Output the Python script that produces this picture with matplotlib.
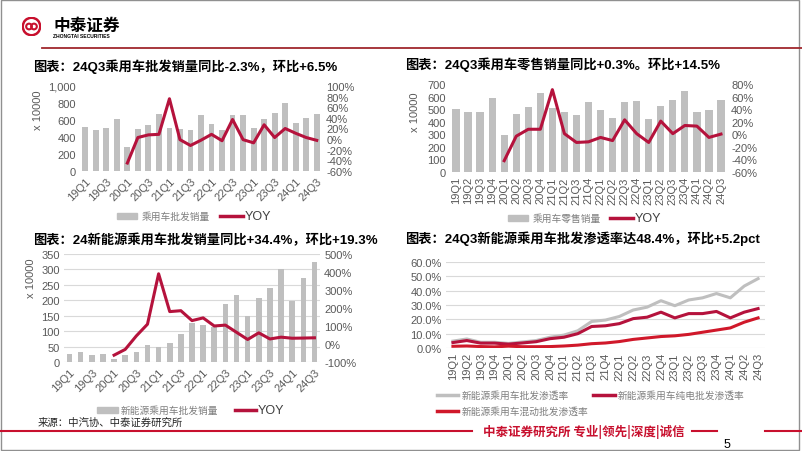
import matplotlib
matplotlib.use('Agg')
import matplotlib.pyplot as plt
import numpy as np
from matplotlib.patches import Rectangle, Circle
from matplotlib.lines import Line2D
from matplotlib.ticker import FuncFormatter

plt.rcParams['font.family'] = ['Liberation Sans', 'Noto Sans CJK SC', 'DejaVu Sans']

# ---- data ----
quarters = ['19Q1', '19Q2', '19Q3', '19Q4', '20Q1', '20Q2', '20Q3', '20Q4',
            '21Q1', '21Q2', '21Q3', '21Q4', '22Q1', '22Q2', '22Q3', '22Q4',
            '23Q1', '23Q2', '23Q3', '23Q4', '24Q1', '24Q2', '24Q3']

wholesale = [520, 480, 505, 615, 280, 495, 545, 675, 505, 490, 480, 660,
             550, 480, 660, 655, 505, 610, 685, 795, 565, 625, 670]
wholesale_yoy = [np.nan, np.nan, np.nan, np.nan, -45, 3, 8, 9, 76, -1, -12, -2,
                 9, -3, 37, -1, -7, 27, 3, 20, 11, 3, -2.3]

retail = [505, 480, 480, 590, 295, 465, 520, 630, 510, 480, 455, 560,
          490, 430, 555, 565, 425, 525, 570, 645, 480, 495, 570]
retail_yoy = [np.nan, np.nan, np.nan, np.nan, -42, -3, 8, 8, 71, 1, -13, -12,
              -5, -10, 23, 1, -13, 21, 1, 14, 13, -5, 0.3]

nev = [25, 32, 22, 27, 10, 22, 32, 55, 50, 63, 90, 128,
       120, 115, 188, 217, 150, 207, 240, 300, 198, 272, 323]
nev_yoy = [np.nan, np.nan, np.nan, np.nan, -62, -30, 45, 110, 390, 180, 185, 130,
           145, 100, 105, 65, 25, 62, 28, 38, 32, 33, 34.4]

pen_total = [4.8, 6.3, 4.0, 4.0, 3.2, 4.2, 5.2, 7.5, 9.0, 12.0, 18.5, 19.5,
             22.0, 26.5, 28.5, 33.0, 29.5, 33.5, 35.0, 38.0, 35.0, 43.2, 48.4]
pen_bev = [3.8, 5.2, 3.4, 3.4, 2.7, 3.5, 4.4, 6.5, 7.5, 10.0, 15.0, 15.5,
           17.0, 20.5, 21.5, 25.0, 21.0, 24.0, 24.0, 25.5, 21.0, 25.0, 27.5]
pen_phev = [1.2, 1.4, 1.0, 0.8, 1.3, 0.9, 0.9, 1.0, 1.4, 2.0, 3.0, 3.5,
            4.5, 6.0, 7.0, 8.0, 8.5, 9.5, 11.0, 12.5, 14.0, 18.0, 21.0]

# ---- style ----
BAR = '#bfbfbf'
RED = '#b5123c'
RED2 = '#d0182a'
TICK = '#595959'
W, H = 802, 452

fig = plt.figure(figsize=(8.02, 4.52), dpi=100)


def box(x0, y0, x1, y1):
    return [x0 / W, 1 - y1 / H, (x1 - x0) / W, (y1 - y0) / H]


def fx(x):
    return x / W


def fy(y):
    return 1 - y / H


def clean(ax):
    for s in ax.spines.values():
        s.set_visible(False)
    ax.tick_params(length=0, labelsize=8, colors=TICK, pad=3)


def leg_patch(x0, x1, y, text, tx):
    fig.add_artist(Rectangle((fx(x0), fy(y + 3)), (x1 - x0) / W, 6 / H,
                             color=BAR, transform=fig.transFigure))
    fig.text(fx(tx), fy(y), text, ha='left', va='center', fontsize=7,
             color='#7f7f7f', family=['Noto Sans CJK SC'])


def leg_line(x0, x1, y, color, text, tx, cjk=True):
    fig.add_artist(Line2D([fx(x0), fx(x1)], [fy(y), fy(y)], color=color, lw=2.5,
                          transform=fig.transFigure))
    if cjk:
        fig.text(fx(tx), fy(y), text, ha='left', va='center', fontsize=7,
                 color='#7f7f7f', family=['Noto Sans CJK SC'])
    else:
        fig.text(fx(tx), fy(y), text, ha='left', va='center', fontsize=9,
                 color='#404040')


x = np.arange(len(quarters))
pct0 = FuncFormatter(lambda v, p: f'{v:.0f}%')

# ---- chart 1: wholesale ----
ax1 = fig.add_axes(box(80, 87, 322, 172))
ax1.bar(x, wholesale, width=0.55, color=BAR)
ax1.set_xlim(-0.5, len(x) - 0.5)
ax1.set_ylim(0, 1000)
ax1.set_yticks(range(0, 1001, 200))
ax1.yaxis.set_major_formatter(FuncFormatter(lambda v, p: f'{v:,.0f}'))
ax1.set_xticks(x[::2])
ax1.set_xticklabels(quarters[::2], rotation=45, ha='right', rotation_mode='anchor')
clean(ax1)
t1 = ax1.twinx()
t1.plot(x, wholesale_yoy, color=RED, lw=2.2)
t1.set_ylim(-60, 100)
t1.set_yticks(range(-60, 101, 20))
t1.yaxis.set_major_formatter(pct0)
clean(t1)
fig.text(fx(38), fy(110), 'x 10000', rotation=90, ha='center', va='center',
         fontsize=8, color=TICK)
fig.text(fx(33), fy(67), '图表：24Q3乘用车批发销量同比-2.3%，环比+6.5%',
         fontsize=9.5, weight='bold', va='center')
leg_patch(117, 137, 217, '乘用车批发销量', 142)
leg_line(220, 243, 217, RED, 'YOY', 245, cjk=False)

# ---- chart 2: retail ----
ax2 = fig.add_axes(box(450, 85, 727, 173))
ax2.bar(x, retail, width=0.6, color=BAR)
ax2.set_xlim(-0.5, len(x) - 0.5)
ax2.set_ylim(0, 700)
ax2.set_yticks(range(0, 701, 100))
ax2.set_xticks(x)
ax2.set_xticklabels(quarters, rotation=90)
clean(ax2)
t2 = ax2.twinx()
t2.plot(x, retail_yoy, color=RED, lw=2.2)
t2.set_ylim(-60, 80)
t2.set_yticks(range(-60, 81, 20))
t2.yaxis.set_major_formatter(pct0)
clean(t2)
fig.text(fx(415), fy(112), 'x 10000', rotation=90, ha='center', va='center',
         fontsize=8, color=TICK)
fig.text(fx(405), fy(65), '图表：24Q3乘用车零售销量同比+0.3%。环比+14.5%',
         fontsize=9.5, weight='bold', va='center')
leg_patch(508, 528, 219, '乘用车零售销量', 533)
leg_line(610, 633, 219, RED, 'YOY', 635, cjk=False)

# ---- chart 3: NEV wholesale ----
ax3 = fig.add_axes(box(64, 255, 320, 363))
ax3.bar(x, nev, width=0.5, color=BAR, zorder=2)
ax3.set_xlim(-0.5, len(x) - 0.5)
ax3.set_ylim(0, 350)
ax3.set_yticks(range(0, 351, 50))
ax3.grid(axis='y', color='#d9d9d9', lw=0.8, zorder=0)
ax3.set_axisbelow(True)
ax3.set_xticks(x[::2])
ax3.set_xticklabels(quarters[::2], rotation=45, ha='right', rotation_mode='anchor')
clean(ax3)
t3 = ax3.twinx()
t3.plot(x, nev_yoy, color=RED, lw=2.2)
t3.set_ylim(-100, 500)
t3.set_yticks(range(-100, 501, 100))
t3.yaxis.set_major_formatter(pct0)
clean(t3)
fig.text(fx(31), fy(278), 'x 10000', rotation=90, ha='center', va='center',
         fontsize=8, color=TICK)
fig.text(fx(33), fy(240), '图表：24新能源乘用车批发销量同比+34.4%，环比+19.3%',
         fontsize=9.5, weight='bold', va='center')
leg_patch(97, 118, 411, '新能源乘用车批发销量', 121)
leg_line(235, 256, 411, RED, 'YOY', 258, cjk=False)

# ---- chart 4: penetration ----
ax4 = fig.add_axes(box(446, 263, 765, 349))
ax4.plot(x, pen_total, color=BAR, lw=2.2)
ax4.plot(x, pen_bev, color=RED, lw=2.2)
ax4.plot(x, pen_phev, color=RED2, lw=2.2)
ax4.set_xlim(-0.5, len(x) - 0.5)
ax4.set_ylim(0, 60)
ax4.set_yticks(range(0, 61, 10))
ax4.yaxis.set_major_formatter(FuncFormatter(lambda v, p: f'{v:.1f}%'))
ax4.grid(axis='y', color='#d9d9d9', lw=0.8)
ax4.set_axisbelow(True)
ax4.set_xticks(x)
ax4.set_xticklabels(quarters, rotation=90)
clean(ax4)
fig.text(fx(405), fy(239), '图表：24Q3新能源乘用车批发渗透率达48.4%，环比+5.2pct',
         fontsize=9.5, weight='bold', va='center')
leg_line(437, 458, 396, BAR, '新能源乘用车批发渗透率', 462)
leg_line(593, 615, 396, RED, '新能源乘用车纯电批发渗透率', 618)
leg_line(437, 458, 412, RED2, '新能源乘用车混动批发渗透率', 462)

# ---- header ----
logo = fig.add_axes(box(22, 18, 41, 37))
logo.set_xlim(0, 1)
logo.set_ylim(0, 1)
logo.set_aspect('equal')
logo.axis('off')
logo.add_patch(Circle((0.5, 0.5), 0.46, fc='none', ec='#c8102e', lw=1.8))
logo.add_patch(Circle((0.37, 0.5), 0.15, fc='none', ec='#c8102e', lw=1.5))
logo.add_patch(Circle((0.63, 0.5), 0.15, fc='none', ec='#c8102e', lw=1.5))
fig.text(fx(53), fy(25.5), '中泰证券', fontsize=12, weight='bold', va='center',
         family=['Noto Sans CJK SC'])
fig.text(fx(53), fy(36), 'ZHONGTAI SECURITIES', fontsize=3.6, weight='bold', va='center')
fig.add_artist(Line2D([fx(42), 1], [fy(49), fy(49)], color='#a0282d', lw=1.3,
                      transform=fig.transFigure))

# ---- footer ----
fig.text(fx(38), fy(423), '来源：中汽协、中泰证券研究所', fontsize=7.5, va='center',
         color='#262626', family=['Noto Sans CJK SC'])
fig.add_artist(Line2D([0, fx(472)], [fy(432), fy(432)], color='#c8102e', lw=1.5,
                      transform=fig.transFigure))
fig.text(fx(483), fy(432), '中泰证券研究所 专业|领先|深度|诚信', fontsize=9,
         weight='bold', va='center', color='#c8102e', family=['Noto Sans CJK SC'])
fig.add_artist(Line2D([fx(692), fx(717)], [fy(432), fy(432)], color='#c8102e', lw=1.5,
                      transform=fig.transFigure))
fig.add_artist(Line2D([fx(765), 1], [fy(432), fy(432)], color='#c8102e', lw=1.5,
                      transform=fig.transFigure))
fig.text(fx(727), fy(445), '5', fontsize=9, ha='center', va='center')

# slide border
fig.add_artist(Rectangle((fx(1), fy(451)), 798 / W, 450 / H, fc='none', ec='#909090',
                         lw=1, transform=fig.transFigure))

fig.savefig('out.png', dpi=100)
